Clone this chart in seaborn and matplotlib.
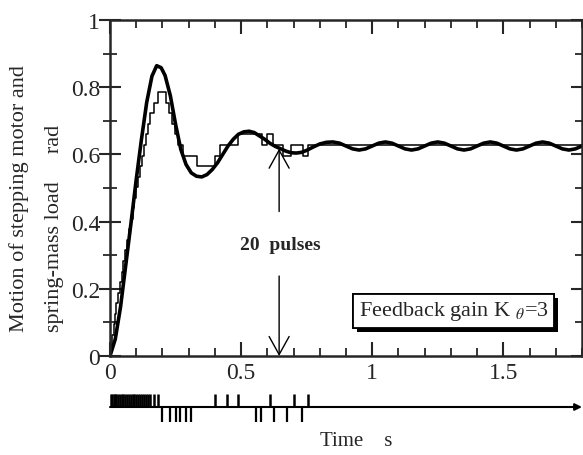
import numpy as np
import matplotlib
matplotlib.use("Agg")
import matplotlib.pyplot as plt
import matplotlib.patheffects as pe
from matplotlib.ticker import MultipleLocator
import seaborn as sns

# spring-mass load response (thick curve), rad
load_t = [0, 0.02, 0.04, 0.06, 0.08, 0.10, 0.12, 0.14, 0.16, 0.178, 0.195, 0.21,
          0.23, 0.25, 0.27, 0.29, 0.31, 0.33, 0.35, 0.37, 0.39, 0.41, 0.43, 0.45,
          0.47, 0.49, 0.51, 0.53, 0.55, 0.57, 0.59, 0.61, 0.63, 0.65, 0.67, 0.69,
          0.71, 0.73, 0.75, 0.775, 0.80, 0.825,
          0.85, 0.875, 0.90, 0.925, 0.95, 0.975, 1.00, 1.025,
          1.05, 1.075, 1.10, 1.125, 1.15, 1.175, 1.20, 1.225,
          1.25, 1.275, 1.30, 1.325, 1.35, 1.375, 1.40, 1.425,
          1.45, 1.475, 1.50, 1.525, 1.55, 1.575, 1.60, 1.625,
          1.65, 1.675, 1.70, 1.725, 1.75, 1.775, 1.80]
load_rad = [0, 0.05, 0.145, 0.27, 0.395, 0.525, 0.645, 0.755, 0.833, 0.864, 0.858, 0.835,
            0.775, 0.69, 0.615, 0.57, 0.545, 0.535, 0.533, 0.54, 0.555, 0.575, 0.60, 0.625,
            0.645, 0.66, 0.667, 0.669, 0.665, 0.655, 0.645, 0.633, 0.624, 0.617, 0.61, 0.605,
            0.604, 0.606, 0.612, 0.622, 0.631, 0.636,
            0.637, 0.6335, 0.625, 0.6165, 0.613, 0.6165, 0.625, 0.6335,
            0.637, 0.6335, 0.625, 0.6165, 0.613, 0.6165, 0.625, 0.6335,
            0.637, 0.6335, 0.625, 0.6165, 0.613, 0.6165, 0.625, 0.6335,
            0.637, 0.6335, 0.625, 0.6165, 0.613, 0.6165, 0.625, 0.6335,
            0.637, 0.6335, 0.625, 0.6165, 0.613, 0.6165, 0.625]

# stepping motor position as pulse count (staircase)
STEP_RAD = 0.0314
step_t = [0, 0.004, 0.009, 0.014, 0.019, 0.024, 0.030, 0.037, 0.044, 0.051, 0.058,
          0.065, 0.072, 0.079, 0.086, 0.093, 0.100, 0.107, 0.114, 0.121, 0.129,
          0.137, 0.145, 0.153, 0.169, 0.182,
          0.215, 0.226, 0.237, 0.248, 0.260, 0.280, 0.330,
          0.400, 0.420, 0.490, 0.580, 0.600, 0.620, 0.660, 0.690, 0.735, 0.755, 1.80]
step_n = [0, 1, 2, 3, 4, 5, 6, 7, 8, 9, 10,
          11, 12, 13, 14, 15, 16, 17, 18, 19, 20,
          21, 22, 23, 24, 25,
          24, 23, 22, 21, 20, 19, 18,
          19, 20, 21, 20, 21, 20, 19, 20, 19, 20, 20]

# pulse train below the axis
fwd_pulse_t = [0.004, 0.009, 0.014, 0.019, 0.024, 0.030, 0.037, 0.044, 0.051, 0.058,
               0.065, 0.072, 0.079, 0.086, 0.093, 0.100, 0.107, 0.114, 0.121, 0.129,
               0.137, 0.145, 0.153, 0.169, 0.182,
               0.400, 0.447, 0.489, 0.611, 0.702, 0.756]
rev_pulse_t = [0.198, 0.229, 0.250, 0.268, 0.290, 0.310,
               0.557, 0.576, 0.626, 0.676, 0.733]

xtick_vals = [0, 0.5, 1, 1.5]
xtick_labels = ["0", "0.5", "1", "1.5"]
ytick_vals = [0, 0.2, 0.4, 0.6, 0.8, 1]
ytick_labels = ["0", "0.2", "0.4", "0.6", "0.8", "1"]

sns.set_style("ticks")
plt.rcParams["font.family"] = ["Liberation Serif", "DejaVu Serif"]
plt.rcParams["mathtext.fontset"] = "stix"

W, H = 583, 456
fig = plt.figure(figsize=(W / 100, H / 100), dpi=100)
ax = fig.add_axes([110 / W, 1 - 357 / H, 472 / W, 336 / H])

sns.lineplot(x=load_t, y=load_rad, ax=ax, color="black", lw=2.6,
             estimator=None, sort=False)
sns.lineplot(x=step_t, y=np.array(step_n) * STEP_RAD, ax=ax, color="black",
             lw=1.1, drawstyle="steps-post", estimator=None, sort=False)

ax.set_xlim(0, 1.8)
ax.set_ylim(0, 1)
ax.set_xticks(xtick_vals)
ax.set_xticklabels(xtick_labels)
ax.set_yticks(ytick_vals)
ax.set_yticklabels(ytick_labels)
ax.xaxis.set_minor_locator(MultipleLocator(0.1))
ax.yaxis.set_minor_locator(MultipleLocator(0.1))
for s in ax.spines.values():
    s.set_linewidth(1.8)
    s.set_visible(True)
ax.tick_params(axis="x", which="major", direction="in", length=10, width=1.5,
               top=True, labelsize=17, pad=4)
ax.tick_params(axis="x", which="minor", direction="in", length=6, width=1.3, top=True)
ax.tick_params(axis="y", which="major", direction="inout", length=16, width=1.5,
               right=True, labelsize=17, pad=-1)
ax.tick_params(axis="y", which="minor", direction="inout", length=10, width=1.3, right=True)
ax.set_xlabel("")
ax.set_ylabel("")

# 20 pulses marker
arrow_kw = dict(arrowstyle="->,head_length=0.65,head_width=0.36", lw=1.0,
                color="black", mutation_scale=20, shrinkA=0, shrinkB=0)
ax.annotate("", xy=(0.645, 0.617), xytext=(0.645, 0.43), arrowprops=arrow_kw)
ax.annotate("", xy=(0.645, 0.0), xytext=(0.645, 0.238), arrowprops=arrow_kw)
ax.text(0.65, 0.333, "20  pulses", fontweight="bold", fontsize=14,
        ha="center", va="center")

box = ax.text(1.31, 0.135, r"Feedback gain K $_{\theta}$=3", fontsize=16,
              ha="center", va="center",
              bbox=dict(boxstyle="square,pad=0.25", fc="white", ec="black", lw=1.3))
box.get_bbox_patch().set_path_effects(
    [pe.withSimplePatchShadow(offset=(3, -3), shadow_rgbFace="black", alpha=1.0),
     pe.Normal()])

# y label, two lines
fig.text(19 / W, 1 - 332 / H, "Motion of stepping motor and", rotation=90,
         ha="center", va="bottom", fontsize=16)
fig.text(55 / W, 1 - 332 / H, "spring-mass load     rad", rotation=90,
         ha="center", va="bottom", fontsize=16)

# pulse train
ax2 = fig.add_axes([110 / W, 1 - 426 / H, 472 / W, 36 / H])
ax2.set_xlim(0, 1.8)
ax2.set_ylim(-1.2, 1.2)
ax2.axis("off")
ax2.vlines(fwd_pulse_t, 0, 0.9, color="black", lw=1.8)
ax2.vlines(rev_pulse_t, -1.0, 0, color="black", lw=1.6)
ax2.annotate("", xy=(1.8, 0), xytext=(0, 0), annotation_clip=False,
             arrowprops=dict(arrowstyle="-|>", lw=1.5, color="black",
                             mutation_scale=10, shrinkA=0, shrinkB=0))

fig.text(356 / W, 1 - 442 / H, "Time    s", ha="center", va="center", fontsize=15)

fig.savefig("out.png", dpi=100)
